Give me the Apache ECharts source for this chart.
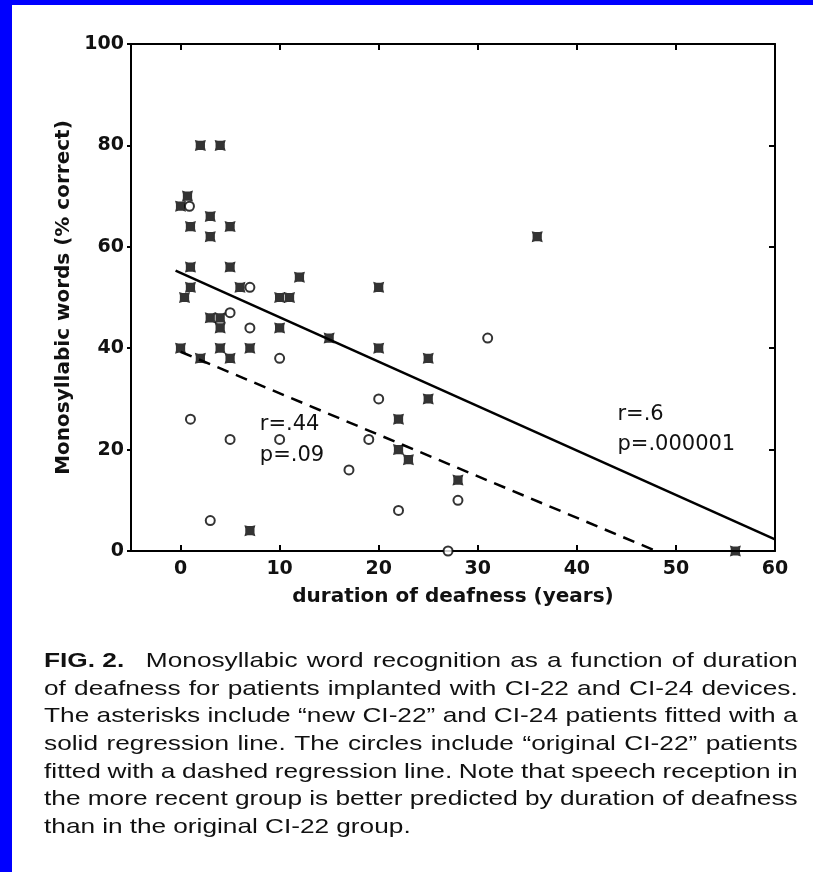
<!DOCTYPE html>
<html>
<head>
<meta charset="utf-8">
<script src="https://cdn.jsdelivr.net/npm/echarts@6/dist/echarts.min.js"></script>
<style>
  html, body { margin: 0; padding: 0; background: #fff; }
  #page { position: relative; width: 813px; height: 872px; background: #fff; overflow: hidden; }
  #blueTop { position: absolute; left: 0; top: 0; width: 813px; height: 5px; background: #0000ff; }
  #blueLeft { position: absolute; left: 0; top: 0; width: 12px; height: 872px; background: #0000ff; }
  #chart { position: absolute; left: 0; top: 0; width: 813px; height: 872px; }
  #caption { position: absolute; left: 44px; top: 646px; font-family: "Liberation Sans", Arial, sans-serif; font-size: 21px; color: #111; }
  .cline { display: flex; justify-content: space-between; width: 603px; height: 27.7px; line-height: 27.7px; transform: scaleX(1.25); transform-origin: 0 0; white-space: nowrap; }
  .cline span { white-space: nowrap; flex: none; }
  .fig { font-weight: bold; padding-right: 10px; }
</style>
</head>
<body>
<div id="page">
  <div id="chart"></div>
  <div id="blueTop"></div>
  <div id="blueLeft"></div>
  <div id="caption"></div>
</div>
<script>
// ---- data ----
const xTickValues = [0, 10, 20, 30, 40, 50, 60];
const xAxisTitle = 'duration of deafness (years)';
const yAxisTitle = 'Monosyllabic words (% correct)';

// asterisks: "new CI-22" and CI-24 patients
const newX = [2, 4, 0.7, 0, 3, 1, 5, 3, 36, 1, 5, 12, 1, 6, 20, 0.4, 10, 11, 3, 4, 4, 10, 15, 0, 4, 7, 20, 2, 5, 25, 25, 22, 22, 23, 28, 7, 56];
const newY = [80, 80, 70, 68, 66, 64, 64, 62, 62, 56, 56, 54, 52, 52, 52, 50, 50, 50, 46, 46, 44, 44, 42, 40, 40, 40, 40, 38, 38, 38, 30, 26, 20, 18, 14, 4, 0];

// circles: "original CI-22" patients
const origX = [0.9, 7, 5, 7, 10, 31, 20, 1, 5, 10, 19, 17, 28, 22, 3, 27];
const origY = [68, 52, 47, 44, 38, 42, 30, 26, 22, 22, 22, 16, 10, 8, 6, 0];

// regression lines (end points)
const solidFitX = [-0.5, 60];
const solidFitY = [55.3, 2.3];
const dashedFitX = [0, 48];
const dashedFitY = [39.3, 0];

// statistics annotations
const dashedStatsText = ['r=.44', 'p=.09'];
const dashedStatsX = [8, 8];
const dashedStatsY = [24.9, 18.9];
const solidStatsText = ['r=.6', 'p=.000001'];
const solidStatsX = [44.1, 44.1];
const solidStatsY = [27.0, 20.9];

const captionLines = [
  ['FIG. 2.', 'Monosyllabic word recognition as a function of duration'],
  [null, 'of deafness for patients implanted with CI-22 and CI-24 devices.'],
  [null, 'The asterisks include \u201cnew CI-22\u201d and CI-24 patients fitted with a'],
  [null, 'solid regression line. The circles include \u201coriginal CI-22\u201d patients'],
  [null, 'fitted with a dashed regression line. Note that speech reception in'],
  [null, 'the more recent group is better predicted by duration of deafness'],
  [null, 'than in the original CI-22 group.']
];

// ---- caption ----
const cap = document.getElementById('caption');
captionLines.forEach(function (ln, i) {
  const d = document.createElement('div');
  d.className = 'cline';
  if (ln[0]) {
    const s = document.createElement('span');
    s.className = 'fig';
    s.textContent = ln[0];
    d.appendChild(s);
  }
  const words = ln[1].split(' ');
  const last = (i === captionLines.length - 1);
  words.forEach(function (w) {
    const s = document.createElement('span');
    s.textContent = w;
    if (last) s.style.marginRight = '0.27em';
    d.appendChild(s);
  });
  if (last) d.style.justifyContent = 'flex-start';
  cap.appendChild(d);
});

// ---- chart ----
const zip = (a, b) => a.map((v, i) => [v, b[i]]);
const FONT = '"DejaVu Sans", "Liberation Sans", sans-serif';
const axisLine = { show: true, onZero: false, lineStyle: { color: '#000', width: 2 } };

const asteriskPath = 'path://M0,0 L3,0.8 L7,0.8 L10,0 L9.2,3 L9.2,7 L10,10 L7,9.2 L3,9.2 L0,10 L0.8,7 L0.8,3 Z';

function statsMarks(texts, xs, ys) {
  return texts.map((t, i) => ({
    coord: [xs[i], ys[i]],
    value: t,
    symbolSize: 0,
    label: {
      show: true, position: 'right', distance: 0, formatter: t,
      fontFamily: FONT, fontSize: 21, color: '#111'
    }
  }));
}

const chart = echarts.init(document.getElementById('chart'), null, { renderer: 'canvas' });
chart.setOption({
  backgroundColor: 'transparent',
  animation: false,
  grid: { left: 131, right: 38, top: 44, bottom: 321, containLabel: false },
  xAxis: [
    {
      type: 'value', min: -5, max: 60, position: 'bottom',
      name: xAxisTitle, nameLocation: 'middle', nameGap: 36,
      nameTextStyle: { fontFamily: FONT, fontSize: 20, fontWeight: 'bold', color: '#111' },
      axisLine: axisLine,
      axisTick: { show: true, inside: true, length: 6, customValues: xTickValues, lineStyle: { color: '#000', width: 2 } },
      axisLabel: { show: true, customValues: xTickValues, margin: 9, fontFamily: FONT, fontSize: 19, fontWeight: 'bold', color: '#111' },
      splitLine: { show: false }
    },
    {
      type: 'value', min: -5, max: 60, position: 'top',
      axisLine: axisLine,
      axisTick: { show: true, inside: true, length: 6, customValues: xTickValues, lineStyle: { color: '#000', width: 2 } },
      axisLabel: { show: false },
      splitLine: { show: false }
    }
  ],
  yAxis: [
    {
      type: 'value', min: 0, max: 100, interval: 20, position: 'left',
      name: yAxisTitle, nameLocation: 'middle', nameGap: 50, nameRotate: 90,
      nameTextStyle: { fontFamily: FONT, fontSize: 20, fontWeight: 'bold', color: '#111' },
      axisLine: axisLine,
      axisTick: { show: true, inside: false, length: 4, lineStyle: { color: '#000', width: 2 } },
      axisLabel: { show: true, margin: 7, fontFamily: FONT, fontSize: 19, fontWeight: 'bold', color: '#111' },
      splitLine: { show: false }
    },
    {
      type: 'value', min: 0, max: 100, interval: 20, position: 'right',
      axisLine: axisLine,
      axisTick: { show: true, inside: true, length: 6, lineStyle: { color: '#000', width: 2 } },
      axisLabel: { show: false },
      splitLine: { show: false }
    }
  ],
  series: [
    {
      name: 'solid fit', type: 'line', data: zip(solidFitX, solidFitY),
      symbol: 'none', lineStyle: { color: '#000', width: 2.5, type: 'solid' },
      markPoint: { data: statsMarks(solidStatsText, solidStatsX, solidStatsY), animation: false },
      z: 2, silent: true
    },
    {
      name: 'dashed fit', type: 'line', data: zip(dashedFitX, dashedFitY),
      symbol: 'none', lineStyle: { color: '#000', width: 2.5, type: [12, 8] },
      markPoint: { data: statsMarks(dashedStatsText, dashedStatsX, dashedStatsY), animation: false },
      z: 2, silent: true
    },
    {
      name: 'new CI-22 and CI-24', type: 'scatter', data: zip(newX, newY),
      symbol: asteriskPath, symbolSize: 11,
      itemStyle: { color: '#000' }, z: 3
    },
    {
      name: 'original CI-22', type: 'scatter', data: zip(origX, origY),
      symbol: 'circle', symbolSize: 9,
      itemStyle: { color: '#fff', borderColor: '#000', borderWidth: 2 }, z: 4
    }
  ]
});
</script>
</body>
</html>
